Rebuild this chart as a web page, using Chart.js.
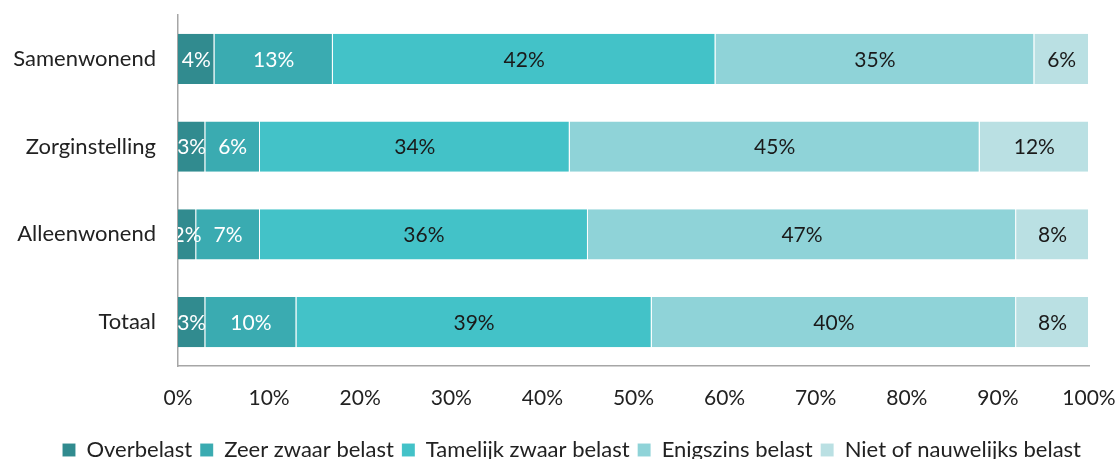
<!DOCTYPE html>
<html>
<head>
<meta charset="utf-8">
<script src="https://cdn.jsdelivr.net/npm/chart.js@4"></script>
<style>
  html, body { margin: 0; padding: 0; background: #fff; }
  #wrap { width: 1117px; height: 459px; }
</style>
</head>
<body>
<div id="wrap"><canvas id="chart"></canvas></div>
<script>
const CATEGORIES = ['Samenwonend', 'Zorginstelling', 'Alleenwonend', 'Totaal'];
const SERIES_NAMES = ['Overbelast', 'Zeer zwaar belast', 'Tamelijk zwaar belast', 'Enigszins belast', 'Niet of nauwelijks belast'];
const OVERBELAST = [4, 3, 2, 3];
const ZEER_ZWAAR = [13, 6, 7, 10];
const TAMELIJK = [42, 34, 36, 39];
const ENIGSZINS = [35, 45, 47, 40];
const NIET = [6, 12, 8, 8];
const X_TICKS = [0, 10, 20, 30, 40, 50, 60, 70, 80, 90, 100];

const COLORS = ['#318b8f', '#3aabb1', '#43c2c8', '#8fd3d8', '#bae0e3'];
const LABEL_COLORS = ['#ffffff', '#ffffff', '#1a1a1a', '#1a1a1a', '#1a1a1a'];
const FONT = 'Lato, "Open Sans", sans-serif';

// draw value labels centred in each segment, clipped to the plot area
const segmentLabels = {
  id: 'segmentLabels',
  afterDatasetsDraw(chart) {
    const { ctx, chartArea } = chart;
    ctx.save();
    ctx.beginPath();
    ctx.rect(chartArea.left, chartArea.top, chartArea.right - chartArea.left, chartArea.bottom - chartArea.top);
    ctx.clip();
    ctx.font = '21px ' + FONT;
    ctx.textAlign = 'center';
    ctx.textBaseline = 'middle';
    chart.data.datasets.forEach((ds, i) => {
      const meta = chart.getDatasetMeta(i);
      ctx.fillStyle = LABEL_COLORS[i];
      meta.data.forEach((bar, j) => {
        const x = (bar.x + bar.base) / 2;
        ctx.fillText(ds.data[j] + '%', x, bar.y + 1);
      });
    });
    ctx.restore();
  }
};

const seriesData = [OVERBELAST, ZEER_ZWAAR, TAMELIJK, ENIGSZINS, NIET];

new Chart(document.getElementById('chart'), {
  type: 'bar',
  data: {
    labels: CATEGORIES,
    datasets: seriesData.map((d, i) => ({
      label: SERIES_NAMES[i],
      data: d,
      backgroundColor: COLORS[i],
      borderColor: 'rgba(255,255,255,0.35)',
      borderWidth: { right: 1, left: 0, top: 0, bottom: 0 },
      borderSkipped: false,
      barPercentage: 0.57,
      categoryPercentage: 1,
    })),
  },
  options: {
    indexAxis: 'y',
    responsive: true,
    maintainAspectRatio: false,
    animation: false,
    layout: { padding: { top: 15, right: 28, left: 0, bottom: -12 } },
    plugins: {
      legend: {
        position: 'bottom',
        align: 'end',
        labels: {
          color: '#222',
          font: { family: FONT, size: 22 },
          boxWidth: 13,
          boxHeight: 13,
          padding: 8,
        },
      },
      tooltip: { enabled: false },
    },
    scales: {
      x: {
        stacked: true,
        min: 0,
        max: 100,
        afterBuildTicks: (scale) => { scale.ticks = X_TICKS.map(v => ({ value: v })); },
        grid: { display: false, drawTicks: false },
        border: { display: true, color: '#a6a6a6', width: 1.5 },
        ticks: {
          color: '#222',
          font: { family: FONT, size: 21 },
          padding: 20,
          maxRotation: 0,
          callback: (v) => v + '%',
        },
        afterFit: (scale) => {
          scale.height = 65;
          scale.paddingLeft = 0;
          scale.paddingRight = 0;
        },
      },
      y: {
        stacked: true,
        grid: { display: false, drawTicks: false },
        border: { display: true, color: '#a6a6a6', width: 1.5 },
        ticks: {
          color: '#222',
          font: { family: FONT, size: 22 },
          padding: 22,
        },
        afterFit: (scale) => {
          scale.width = 178;
          scale.paddingTop = 0;
          scale.paddingBottom = 0;
        },
      },
    },
  },
  plugins: [segmentLabels],
});
</script>
</body>
</html>
